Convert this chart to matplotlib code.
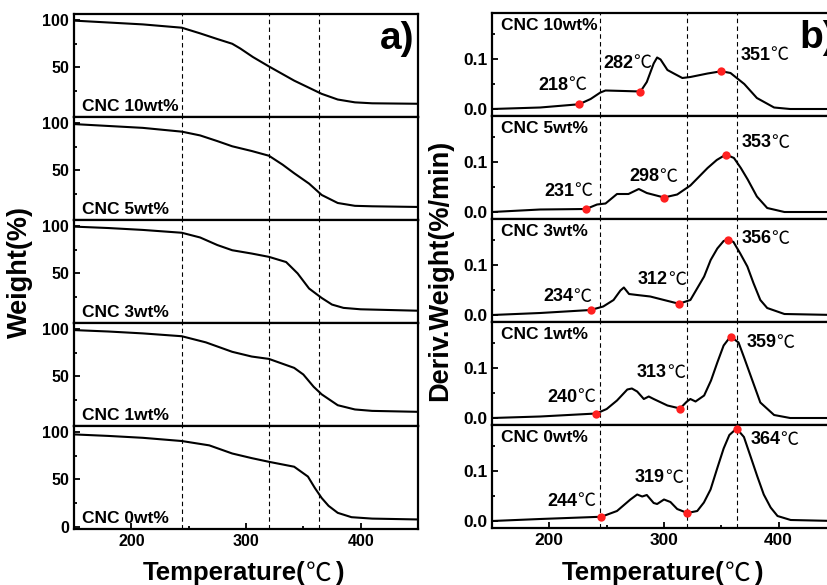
import matplotlib
matplotlib.use('Agg')
import matplotlib.pyplot as plt
from matplotlib.ticker import MultipleLocator, FixedLocator

plt.rcParams['font.family'] = ['Liberation Sans', 'Noto Sans CJK SC']
plt.rcParams['font.weight'] = 'bold'

samples = ['CNC 10wt%', 'CNC 5wt%', 'CNC 3wt%', 'CNC 1wt%', 'CNC 0wt%']
dash_T = [244, 320, 364]

# TGA curves (weight %)
tga_T = [
    [150, 180, 210, 244, 260, 275, 288, 295, 306, 320, 342, 366, 380, 395, 410, 450],
    [150, 180, 210, 244, 260, 275, 288, 305, 320, 332, 342, 355, 366, 380, 395, 410, 450],
    [150, 180, 210, 244, 260, 275, 288, 305, 320, 335, 345, 355, 366, 375, 385, 400, 450],
    [150, 180, 210, 244, 265, 288, 305, 320, 342, 350, 359, 366, 380, 395, 410, 450],
    [150, 180, 210, 244, 268, 288, 305, 320, 342, 354, 360, 366, 372, 380, 392, 410, 450],
]
tga_W = [
    [99.5, 97.5, 95.5, 92, 86, 80, 75, 70, 61, 51, 36, 22, 16, 13, 12, 11.5],
    [99, 97, 95, 91, 87, 81, 75.5, 70.5, 65.5, 56, 47, 36, 24, 15.5, 12.5, 12, 11.3],
    [99.5, 98, 96, 93, 88, 80, 74.5, 71, 67.5, 62, 50, 34, 24, 17, 13.5, 12, 10.5],
    [99, 97.5, 95.5, 92.5, 86, 76, 71, 68.5, 59, 52, 39, 31, 19.5, 15, 13.5, 12.5],
    [97.6, 96, 94, 90.6, 86, 77.4, 72.5, 68.6, 63.4, 53, 41, 30.3, 22, 14.6, 10, 8.5, 7.6],
]

# DTG curves (%/min)
dtg_T = [
    [150, 192, 226, 236, 244.5, 249, 265, 279.5, 285, 291, 294, 297, 303, 308.6, 316, 323, 338, 350, 358, 370, 381, 396, 410, 450],
    [150, 192, 232, 241.6, 249, 259, 269, 278, 285, 300, 311.5, 323, 338, 346, 354, 361, 367, 373, 381, 390, 405, 450],
    [150, 192, 236, 247, 256, 262, 265, 269.5, 276.6, 288, 300, 313, 323, 335, 340.7, 346.5, 352, 356, 360.6, 366.5, 372.7, 378, 384, 390, 405, 450],
    [150, 192, 241, 250, 259, 268, 272, 276.6, 282.4, 286.7, 291, 303, 314, 320, 323, 327.5, 335, 341, 346.5, 352, 358, 365, 370, 375.5, 384, 396, 410, 450],
    [150, 192, 245.4, 259, 270.7, 276.6, 281, 285, 291, 294, 300, 305.6, 311.5, 320.3, 329, 334.8, 340.6, 346.5, 352, 357, 363.3, 369.7, 375.5, 381.4, 387, 393, 399, 410.5, 450],
]
dtg_V = [
    [0.0, 0.003, 0.0095, 0.02, 0.033, 0.037, 0.036, 0.035, 0.054, 0.091, 0.103, 0.099, 0.078, 0.071, 0.062, 0.064, 0.071, 0.0755, 0.072, 0.05, 0.022, 0.003, 0.0, 0.0],
    [0.0, 0.005, 0.006, 0.015, 0.017, 0.036, 0.036, 0.046, 0.038, 0.029, 0.035, 0.053, 0.088, 0.104, 0.115, 0.108, 0.088, 0.065, 0.031, 0.008, 0.0, 0.0],
    [0.0, 0.004, 0.01, 0.017, 0.03, 0.049, 0.055, 0.042, 0.04, 0.037, 0.03, 0.0225, 0.03, 0.077, 0.11, 0.133, 0.148, 0.151, 0.146, 0.123, 0.097, 0.064, 0.03, 0.014, 0.002, 0.0],
    [0.0, 0.003, 0.009, 0.018, 0.035, 0.057, 0.059, 0.053, 0.038, 0.043, 0.038, 0.025, 0.019, 0.033, 0.038, 0.033, 0.045, 0.075, 0.111, 0.145, 0.163, 0.151, 0.12, 0.085, 0.031, 0.006, 0.0, 0.0],
    [0.0, 0.004, 0.0085, 0.02, 0.043, 0.053, 0.049, 0.052, 0.036, 0.034, 0.043, 0.038, 0.024, 0.016, 0.02, 0.037, 0.063, 0.106, 0.145, 0.172, 0.185, 0.168, 0.129, 0.089, 0.053, 0.027, 0.01, 0.002, 0.0],
]

# red markers and their temperature labels
mark_T = [[226, 279.5, 350], [232, 300, 354], [236, 313, 356], [241, 314, 358], [245.4, 320.3, 363.3]]
mark_V = [[0.0095, 0.035, 0.0755], [0.006, 0.029, 0.115], [0.01, 0.0225, 0.151], [0.009, 0.019, 0.163], [0.0085, 0.016, 0.185]]
peak_labels = [['218', '282', '351'], ['231', '298', '353'], ['234', '312', '356'], ['240', '313', '359'], ['244', '319', '364']]
label_T = [[216.5, 273.5, 393], [221.5, 296, 393.8], [221, 303.5, 393.8], [224.3, 302.4, 398], [224.6, 300.6, 401.3]]
label_V = [[0.047, 0.091, 0.108], [0.041, 0.071, 0.139], [0.037, 0.07, 0.153], [0.041, 0.091, 0.15], [0.040, 0.086, 0.162]]

W, H = 828, 585
fig = plt.figure(figsize=(W / 100, H / 100), dpi=100)

panel_h = 103 / H
bottom0 = 1 - 529 / H
cjk = 'Noto Sans CJK SC'


def style_axis(ax, size):
    for s in ax.spines.values():
        s.set_linewidth(1.6)
    ax.tick_params(which='both', direction='in', width=1.3, labelsize=size)
    ax.tick_params(which='major', length=4)
    ax.tick_params(which='minor', length=2.5)
    ax.tick_params(axis='y', which='both', right=False)
    ax.tick_params(axis='x', which='both', top=False)
    ax.xaxis.set_major_locator(MultipleLocator(100))
    ax.xaxis.set_minor_locator(MultipleLocator(50))


def celsius_label(ax, x, y, num, size):
    # number in Arial-like bold, degree sign in a CJK face like the original
    t = ax.text(x, y, num, fontsize=size, fontweight='bold', ha='right', va='center')
    ax.annotate('℃', xy=(1, 0.5), xycoords=t, fontsize=size, family=cjk,
                fontweight='normal', ha='left', va='center')


def temp_xlabel(ax, x0):
    t1 = ax.text(x0 / W, 5 / H, 'Temperature(', transform=fig.transFigure,
                 fontsize=18.5, fontweight='bold', ha='left', va='baseline')
    ax.annotate('℃', xy=(1, -0.06), xycoords=t1, fontsize=18.5, family=cjk,
                fontweight='normal', ha='left', va='bottom')
    ax.annotate(')', xy=(1, 0), xycoords=t1, xytext=(21.5, 0), textcoords='offset points',
                fontsize=18.5, fontweight='bold', ha='left', va='bottom')


for i in range(5):
    b = bottom0 + (4 - i) * panel_h
    # left: TGA
    ax = fig.add_axes([74 / W, b, 344 / W, panel_h])
    style_axis(ax, 11.5)
    ax.plot(tga_T[i], tga_W[i], color='black', lw=1.5)
    for t in dash_T:
        ax.axvline(t, color='black', lw=0.8, ls=(0, (4, 3)))
    ax.set_xlim(150, 450)
    ax.set_ylim(-2.5, 106.5)
    ax.yaxis.set_major_locator(FixedLocator([0, 50, 100] if i == 4 else [50, 100]))
    ax.yaxis.set_minor_locator(FixedLocator([25, 75]))
    ax.text(0.024, 0.03, samples[i], transform=ax.transAxes, fontsize=12.5,
            fontweight='bold', ha='left', va='bottom')
    if i < 4:
        ax.tick_params(axis='x', which='both', bottom=False, labelbottom=False)
    else:
        temp_xlabel(ax, 143)
    if i == 0:
        ax.text(0.99, 0.93, 'a)', transform=ax.transAxes, fontsize=28,
                fontweight='bold', ha='right', va='top')
    if i == 2:
        ax.set_ylabel('Weight(%)', fontsize=19.5, fontweight='bold', labelpad=7)

    # right: DTG
    ax2 = fig.add_axes([492 / W, b + 1 / H, 344 / W, panel_h])
    style_axis(ax2, 12.5)
    ax2.plot(dtg_T[i], dtg_V[i], color='black', lw=1.5)
    ax2.plot(mark_T[i], mark_V[i], 'o', color='#ff2020', ms=6, mec='none', zorder=5)
    for t in dash_T:
        ax2.axvline(t, color='black', lw=0.8, ls=(0, (4, 3)))
    for lt, lx, ly in zip(peak_labels[i], label_T[i], label_V[i]):
        celsius_label(ax2, lx, ly, lt, 13)
    ax2.set_xlim(150, 450)
    ax2.set_ylim(-0.014, 0.192)
    ax2.yaxis.set_major_locator(FixedLocator([0.0, 0.1]))
    ax2.yaxis.set_minor_locator(FixedLocator([0.05, 0.15]))
    ax2.yaxis.set_major_formatter(plt.FormatStrFormatter('%.1f'))
    ax2.text(0.025, 0.95, samples[i], transform=ax2.transAxes, fontsize=12.5,
             fontweight='bold', ha='left', va='top')
    if i < 4:
        ax2.tick_params(axis='x', which='both', bottom=False, labelbottom=False)
    else:
        temp_xlabel(ax2, 562)
    if i == 0:
        ax2.text(1.0, 0.93, 'b)', transform=ax2.transAxes, fontsize=28,
                 fontweight='bold', ha='right', va='top')
    if i == 2:
        ax2.set_ylabel('Deriv.Weight(%/min)', fontsize=19.5, fontweight='bold', labelpad=7)

fig.savefig('out.png', dpi=100)
